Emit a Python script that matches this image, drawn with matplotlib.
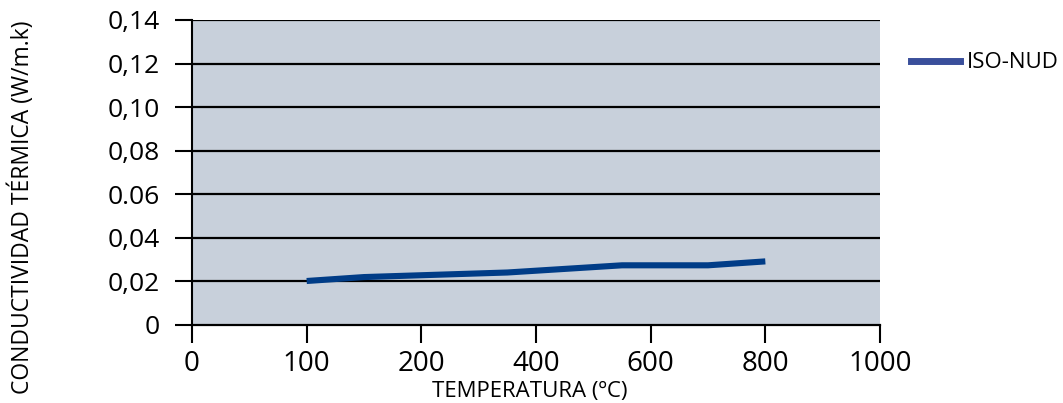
import numpy as np
import matplotlib
matplotlib.use("Agg")
import matplotlib.pyplot as plt
from matplotlib.lines import Line2D

plt.rcParams['font.family'] = ['Open Sans', 'DejaVu Sans']

# datos
tick_temps = [0, 100, 200, 400, 600, 800, 1000]
tick_labels = ['0', '100', '200', '400', '600', '800', '1000']
temps = [100, 150, 350, 550, 700, 800]
conductividad = [0.0202, 0.0220, 0.0241, 0.0274, 0.0274, 0.0292]
y_ticks = [0, 0.02, 0.04, 0.06, 0.08, 0.10, 0.12, 0.14]
y_labels = ['0', '0,02', '0,04', '0.06', '0,08', '0,10', '0,12', '0,14']
serie = 'ISO-NUD'

# el eje x es por categorías: ticks equiespaciados
pos_ticks = np.arange(len(tick_temps))
pos = np.interp(temps, tick_temps, pos_ticks)

fig = plt.figure(figsize=(10.63, 4.03), dpi=100)
ax = fig.add_axes([192/1063, 1 - 325/403, 688/1063, 305/403])
ax.set_facecolor('#c8d0db')

for y in y_ticks[1:]:
    ax.axhline(y, color='black', lw=1.6, zorder=1)

ax.plot(pos, conductividad, color='#003c87', lw=4.4, solid_capstyle='butt', zorder=3)

ax.set_xlim(pos_ticks[0], pos_ticks[-1])
ax.set_ylim(0, 0.14)
ax.set_xticks(pos_ticks)
ax.set_xticklabels(tick_labels, fontsize=20)
ax.set_yticks(y_ticks)
ax.set_yticklabels(y_labels, fontsize=19)
ax.tick_params(axis='y', length=12, width=1.5, pad=11)
ax.tick_params(axis='x', length=13, width=1.5, pad=5)

for s in ['top', 'right']:
    ax.spines[s].set_visible(False)
ax.spines['left'].set_linewidth(1.5)
ax.spines['bottom'].set_linewidth(1.6)

fig.text(530/1063, 1 - 391/403, 'TEMPERATURA (ºC)', ha='center', va='center', fontsize=16)
fig.text(22/1063, 1 - 207/403, 'CONDUCTIVIDAD TÉRMICA (W/m.k)', rotation=90,
         ha='center', va='center', fontsize=16.5)

handle = Line2D([], [], color='#3a4f9b', lw=5)
fig.legend([handle], [serie], loc='center left', bbox_to_anchor=(911/1063, 1 - 63/403),
           frameon=False, fontsize=16, handlelength=2.2, handletextpad=0.3,
           borderpad=0, borderaxespad=0)

fig.savefig('out.png', dpi=100)
